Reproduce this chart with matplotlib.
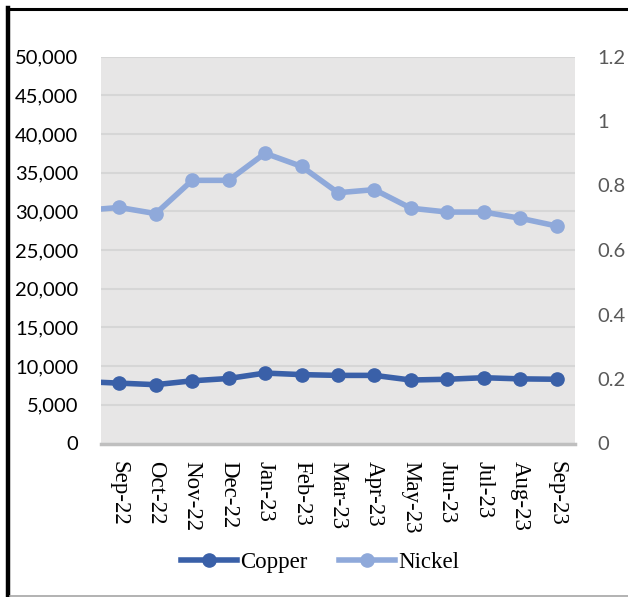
import matplotlib
matplotlib.use("Agg")
import matplotlib.pyplot as plt
from matplotlib.lines import Line2D
import numpy as np

categories = ["Sep-22", "Oct-22", "Nov-22", "Dec-22", "Jan-23", "Feb-23", "Mar-23",
              "Apr-23", "May-23", "Jun-23", "Jul-23", "Aug-23", "Sep-23"]
# value of the month before the first category (clipped at the plot edge)
copper_prev = 8000
nickel_prev = 30100
copper = [7800, 7600, 8100, 8400, 9100, 8900, 8800, 8800, 8200, 8300, 8500, 8350, 8300]
nickel = [30500, 29700, 34000, 34000, 37500, 35800, 32400, 32800, 30400, 29900, 29900, 29100, 28100]
left_ticks = [0, 5000, 10000, 15000, 20000, 25000, 30000, 35000, 40000, 45000, 50000]
right_ticks = [0, 0.2, 0.4, 0.6, 0.8, 1.0, 1.2]
right_labels = ["0", "0.2", "0.4", "0.6", "0.8", "1", "1.2"]

W, H = 628, 597
fig = plt.figure(figsize=(W / 100, H / 100), dpi=100)
ax = fig.add_axes([101 / W, 1 - 443.5 / H, 474 / W, 387 / H])
ax.set_facecolor("#e7e6e6")

cu_col = "#3a60a8"
ni_col = "#8fa9da"
x = np.arange(-1, len(categories))
ax.plot(x, [copper_prev] + copper, color=cu_col, lw=4, marker="o", ms=9.5,
        markevery=list(range(1, len(x))), solid_capstyle="butt", zorder=3)
ax.plot(x, [nickel_prev] + nickel, color=ni_col, lw=4, marker="o", ms=9.5,
        markevery=list(range(1, len(x))), solid_capstyle="butt", zorder=3)

ax.set_xlim(-0.5, len(categories) - 0.5)
ax.set_ylim(0, 50000)
ax.set_yticks(left_ticks)
ax.set_yticklabels([f"{v:,}" for v in left_ticks], fontfamily="Lato", fontsize=14.5, color="#000000")
ax.set_xticks(range(len(categories)))
ax.set_xticklabels(categories, rotation=270, fontfamily="Liberation Serif", fontsize=16.5,
                   va="top", ha="center")
ax.tick_params(axis="both", length=0)
ax.tick_params(axis="y", pad=16.5)
ax.tick_params(axis="x", pad=12.5)
ax.grid(axis="y", color="#d6d6d6", lw=1.5)
ax.set_axisbelow(True)
for s in ["top", "left", "right"]:
    ax.spines[s].set_visible(False)
ax.spines["bottom"].set_color("#bfbfbf")
ax.spines["bottom"].set_linewidth(2.5)
ax.spines["bottom"].set_zorder(4)

ax2 = ax.twinx()
ax2.set_ylim(0, 1.2)
ax2.set_yticks(right_ticks)
ax2.set_yticklabels(right_labels, fontfamily="Lato", fontsize=14.5, color="#595959")
ax2.tick_params(axis="y", length=0, pad=16)
for s in ax2.spines.values():
    s.set_visible(False)

handles = [Line2D([0], [0], color=cu_col, lw=4, marker="o", ms=9.5),
           Line2D([0], [0], color=ni_col, lw=4, marker="o", ms=9.5)]
fig.legend(handles, ["Copper", "Nickel"], loc="center", bbox_to_anchor=(320 / W, 1 - 562 / H),
           ncol=2, frameon=False, prop={"family": "Liberation Serif", "size": 16.5},
           handlelength=2.45, handletextpad=0.15, columnspacing=1.35, borderpad=0)

# figure border lines
fig.add_artist(Line2D([8 / W, 8 / W], [0, 1 - 8 / H], color="black", lw=3.2, transform=fig.transFigure))
fig.add_artist(Line2D([6.5 / W, 1], [1 - 9.3 / H, 1 - 9.3 / H], color="black", lw=2.2, transform=fig.transFigure))
fig.add_artist(Line2D([10 / W, 1], [1 - 596 / H, 1 - 596 / H], color="#a6a6a6", lw=1.2, transform=fig.transFigure))

fig.savefig("out.png", dpi=100)
